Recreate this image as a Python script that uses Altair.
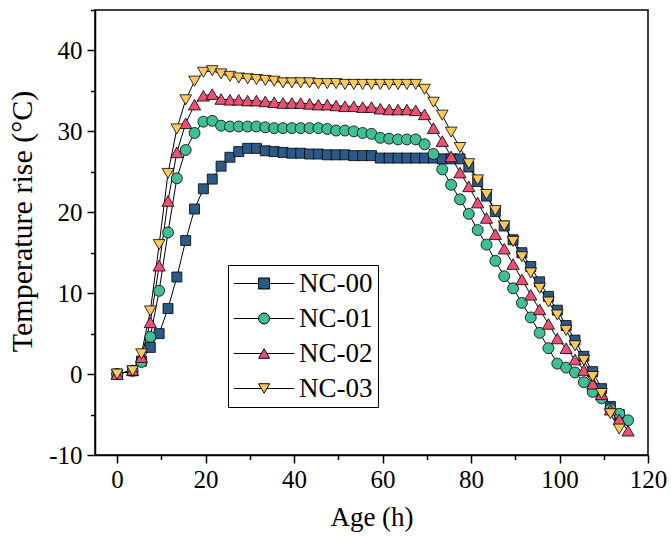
import altair as alt
import pandas as pd

AGE = [0, 3.5, 5.5, 7.5, 9.5, 11.5, 13.5, 15.5, 17.5, 19.5,
       21.5, 23.5, 25.5, 27.5, 29.5, 31.5, 33.5, 35.5, 37.5, 39.5,
       41.5, 43.5, 45.5, 47.5, 49.5, 51.5, 53.5, 55.5, 57.5, 59.5,
       61.5, 63.5, 65.5, 67.5, 69.5, 71.5, 73.5, 75.5, 77.5, 79.5,
       81.5, 83.5, 85.5, 87.5, 89.5, 91.5, 93.5, 95.5, 97.5, 99.5,
       101.5, 103.5, 105.5, 107.5, 109.5, 111.5, 113.5, 115.5]

NC00 = [0, 0.4, 1.6, 3.3, 5.0, 8.1, 12.0, 16.5, 20.4, 22.9,
        24.1, 25.7, 26.8, 27.5, 27.9, 27.9, 27.6, 27.5, 27.4, 27.3,
        27.3, 27.2, 27.2, 27.1, 27.1, 27.1, 27.0, 27.0, 27.0, 26.7,
        26.7, 26.7, 26.7, 26.7, 26.7, 26.7, 26.6, 26.6, 26.6, 25.6,
        23.8, 22.0, 20.1, 18.3, 16.6, 15.0, 13.3, 11.4, 9.6, 7.9,
        6.0, 4.2, 2.2, 0.3, -1.8, -4.0, -5.0]

NC01 = [0, 0.4, 1.5, 4.6, 10.3, 17.5, 24.2, 27.7, 29.8, 31.2,
        31.3, 30.7, 30.6, 30.6, 30.6, 30.6, 30.5, 30.4, 30.4, 30.4,
        30.4, 30.4, 30.4, 30.3, 30.1, 30.1, 30.0, 29.8, 29.7, 29.2,
        29.1, 29.0, 29.0, 29.0, 28.4, 27.2, 25.3, 23.4, 21.6, 19.8,
        17.8, 16.0, 14.0, 12.1, 10.6, 8.8, 7.0, 5.1, 3.2, 1.3,
        0.8, 0.2, -1.0, -2.2, -3.0, -4.3, -4.9, -5.7]

NC02 = [0, 0.5, 2.1, 6.4, 13.4, 21.4, 27.4, 31.0, 33.3, 34.4,
        34.6, 34.0, 33.9, 33.9, 33.8, 33.8, 33.7, 33.6, 33.5, 33.5,
        33.5, 33.4, 33.3, 33.3, 33.2, 33.1, 33.1, 33.0, 33.0, 32.8,
        32.7, 32.7, 32.7, 32.6, 32.1, 30.4, 28.8, 26.9, 24.9, 23.2,
        21.2, 19.3, 17.3, 15.5, 13.6, 11.7, 9.8, 8.0, 6.2, 4.4,
        3.2, 1.8, 0.5, -1.2, -2.5, -4.4, -5.6, -7.0]

NC03 = [0, 0.4, 2.5, 7.8, 16.0, 24.8, 30.3, 33.9, 36.2, 37.3,
        37.5, 37.1, 36.8, 36.6, 36.5, 36.4, 36.3, 36.2, 36.0, 36.0,
        36.0, 36.0, 35.9, 35.9, 35.9, 35.8, 35.8, 35.8, 35.8, 35.8,
        35.8, 35.8, 35.8, 35.8, 35.2, 33.6, 32.0, 29.9, 28.0, 26.0,
        24.0, 22.2, 20.2, 18.3, 16.4, 14.5, 12.5, 10.6, 8.9, 7.3,
        5.4, 3.5, 1.7, -0.3, -2.4, -4.9, -6.8]

SERIES = ["NC-00", "NC-01", "NC-02", "NC-03"]
COLORS = ["#2B5A87", "#40BE96", "#EE5073", "#FFC85A"]
SHAPES = ["square", "circle", "triangle-up", "triangle-down"]
SIZES = [100, 120, 150, 135]
LEG_PATHS = [
    "M-2.3,0 L2.2,0 M4.2,0 L8.7,0 M2.2,-1 L4.2,-1 L4.2,1 L2.2,1 Z",
    "M-2.3,0 L2.2,0 M4.2,0 L8.7,0 M2.2,0 A1,1 0 1,1 4.2,0 A1,1 0 1,1 2.2,0 Z",
    "M-2.3,0 L2.7,0 M3.7,0 L8.7,0 M3.2,-0.866 L4.2,0.866 L2.2,0.866 Z",
    "M-2.3,0 L2.7,0 M3.7,0 L8.7,0 M3.2,0.866 L4.2,-0.866 L2.2,-0.866 Z",
]

X_TICKS = [0, 20, 40, 60, 80, 100, 120]
X_MINOR = [10, 30, 50, 70, 90, 110]
Y_TICKS = [-10, 0, 10, 20, 30, 40]
Y_MINOR = [-5, 5, 15, 25, 35, 45]

rows = []
for name, vals in zip(SERIES, [NC00, NC01, NC02, NC03]):
    for a, v in zip(AGE, vals):
        rows.append({"series": name, "age": a, "temp": v})
df = pd.DataFrame(rows)

FONT = "Liberation Serif"
xs = alt.Scale(domain=[-5, 120], nice=False, zero=False)
ys = alt.Scale(domain=[-10, 45], nice=False, zero=False)

major_x = alt.Axis(orient="bottom", values=X_TICKS, tickSize=8, tickWidth=1.5, tickColor="black",
                   labelFont=FONT, labelFontSize=25, labelColor="black", labelPadding=4,
                   title="Age (h)", titleFont=FONT, titleFontSize=27, titleFontWeight="normal",
                   titleColor="black", titlePadding=12, grid=False, domainColor="black",
                   domainWidth=1.5, labelFlush=False, labelOverlap=False)
minor_x = alt.Axis(orient="bottom", values=X_MINOR, tickSize=4.5, tickWidth=1.5, tickColor="black",
                   labels=False, domain=False, title=None, grid=False)
major_y = alt.Axis(orient="left", values=Y_TICKS, tickSize=8, tickWidth=1.5, tickColor="black",
                   labelFont=FONT, labelFontSize=25, labelColor="black", labelPadding=5,
                   labelExpr="'' + datum.value",
                   title="Temperature rise (°C)", titleFont=FONT, titleFontSize=30,
                   titleFontWeight="normal", titleColor="black", titleX=-58, titleY=211,
                   grid=False, domainColor="black", domainWidth=1.5,
                   labelFlush=False, labelOverlap=False)
minor_y = alt.Axis(orient="left", values=Y_MINOR, tickSize=4.5, tickWidth=1.5, tickColor="black",
                   labels=False, domain=False, title=None, grid=False)

base = alt.Chart(df)

lines = base.mark_line(color="black", strokeWidth=1).encode(
    x=alt.X("age:Q", scale=xs, axis=major_x),
    y=alt.Y("temp:Q", scale=ys, axis=major_y),
    detail="series:N",
)

points = base.mark_point(filled=True, stroke="black", strokeWidth=0.8, opacity=1).encode(
    x=alt.X("age:Q", scale=xs, axis=minor_x),
    y=alt.Y("temp:Q", scale=ys, axis=minor_y),
    shape=alt.Shape("series:N", scale=alt.Scale(domain=SERIES, range=SHAPES), legend=None),
    fill=alt.Fill("series:N", scale=alt.Scale(domain=SERIES, range=COLORS), legend=None),
    size=alt.Size("series:N", scale=alt.Scale(type="ordinal", domain=SERIES, range=SIZES), legend=None),
)

leg = alt.Legend(title=None, orient="none", legendX=133, legendY=255, padding=5,
                 strokeColor="black", fillColor="white",
                 labelFont=FONT, labelFontSize=27, labelColor="black", labelOffset=39,
                 labelLimit=0, symbolSize=121, symbolStrokeWidth=1,
                 symbolOpacity=1, rowPadding=7)

legend_layer = base.mark_point(filled=True, opacity=0).encode(
    x=alt.X("age:Q", scale=xs, axis=None),
    y=alt.Y("temp:Q", scale=ys, axis=None),
    shape=alt.Shape("series:N", scale=alt.Scale(domain=SERIES, range=LEG_PATHS), legend=leg),
    fill=alt.Fill("series:N", scale=alt.Scale(domain=SERIES, range=COLORS), legend=leg),
    stroke=alt.Stroke("series:N", scale=alt.Scale(domain=SERIES, range=["black"] * 4), legend=leg),
)

chart = alt.layer(lines, points, legend_layer).resolve_scale(
    shape="independent", fill="independent", size="independent", stroke="independent"
).resolve_axis(x="independent", y="independent").properties(
    width=553, height=445,
    autosize=alt.AutoSizeParams(type="none"),
    padding={"left": 95, "top": 10, "right": 23, "bottom": 81},
).configure(background="white", font=FONT).configure_view(
    stroke="black", strokeWidth=1.5
).configure_axis(labelFont=FONT, titleFont=FONT).configure_legend(labelFont=FONT)

chart.save("out.html", embed_options={"renderer": "svg", "actions": False})
